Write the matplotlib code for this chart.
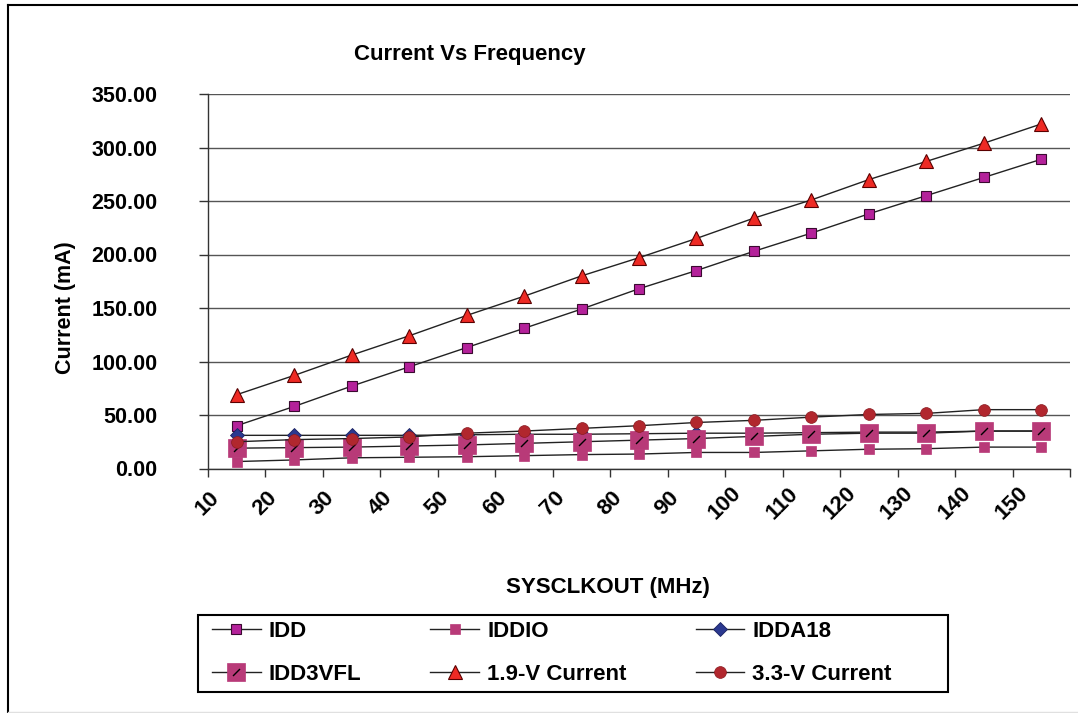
"""
Current vs frequency
"""

import numpy as np
import matplotlib.pyplot as plt
from matplotlib.lines import Line2D
from matplotlib.patches import Rectangle
from matplotlib.legend_handler import HandlerTuple
from matplotlib.transforms import ScaledTranslation

freq = [10, 20, 30, 40, 50, 60, 70, 80, 90, 100, 110, 120, 130, 140, 150]

idd     = [40, 58, 77, 95, 113, 131, 149, 168, 185, 203, 220, 238, 255, 272, 289]
iddio   = [6.5, 8, 10, 10.5, 11, 12, 13, 13.5, 15, 15, 16.5, 18, 18.5, 20, 20]
idda18  = [31, 31, 31, 31, 31.5, 32, 32, 32.5, 33, 33, 33.5, 34, 34, 35, 35]
idd3vfl = [19, 19.5, 20, 21, 22, 23.5, 25, 26.5, 28, 30, 32, 33, 33, 35, 35]
v19     = [69, 87, 106, 124, 143, 161, 180, 197, 215, 234, 251, 270, 287, 304, 322]
v33     = [25, 27, 28, 29.5, 33, 35, 37.5, 40, 43, 45, 48, 50.5, 51.5, 55, 55]

yticks = [0, 50, 100, 150, 200, 250, 300, 350]

plt.rcParams['font.family'] = ['Liberation Sans', 'DejaVu Sans']
plt.rcParams['font.weight'] = 'bold'

W, H = 1078, 713
fig = plt.figure(figsize=(W/100, H/100), dpi=100)
ax = fig.add_axes([208/W, 1 - 468.5/H, 862/W, 374.5/H])

x = np.arange(len(freq))
lc = '#222222'
lw = 1.0

#------------------------------------------------------------------------------
# series

h_idd, = ax.plot(x, idd, color=lc, lw=lw, marker='s', ms=7.2,
                 mfc='#B4219A', mec='#3a0a30', mew=0.8)
h_io, = ax.plot(x, iddio, color=lc, lw=lw, marker='s', ms=7.8,
                mfc='#B83A78', mec='#B83A78', mew=0.5)
h_a18, = ax.plot(x, idda18, color=lc, lw=lw, marker='D', ms=7.5,
                 mfc='#2B3990', mec='#1a2260', mew=0.6)
h_fl, = ax.plot(x, idd3vfl, color=lc, lw=lw, marker='s', ms=12.5,
                mfc='#B83A78', mec='#B83A78', mew=0.5)
slash = [(-0.5, -0.5), (0.5, 0.5)]
h_sl, = ax.plot(x, idd3vfl, ls='none', marker=slash, ms=5,
                mfc='none', mec='black', mew=1.0)
h_19, = ax.plot(x, v19, color=lc, lw=lw, marker='^', ms=9.5,
                mfc='#EE2A24', mec='#5a0000', mew=0.8)
h_33, = ax.plot(x, v33, color=lc, lw=lw, marker='o', ms=8.5,
                mfc='#B1272E', mec='#8a1a20', mew=0.5)

#------------------------------------------------------------------------------
# axes

ax.set_xlim(-0.5, len(freq) - 0.5)
ax.set_ylim(0, 350)
ax.set_yticks(yticks, [f'{v:.2f}' for v in yticks])
ax.set_xticks(x, [str(f) for f in freq])
ax.set_xticks(np.arange(len(freq) + 1) - 0.5, minor=True)

ax.grid(axis='y', color='#555555', lw=1)
ax.set_axisbelow(True)
for s in ['top', 'right']:
    ax.spines[s].set_visible(False)
for s in ['left', 'bottom']:
    ax.spines[s].set_color('#333333')
    ax.spines[s].set_linewidth(1)

ax.tick_params(axis='y', length=6.5, width=1, color='#333333', pad=30,
               labelsize=15.5)
ax.tick_params(axis='x', which='major', length=0, pad=25, labelsize=16)
ax.tick_params(axis='x', which='minor', length=6, width=1, color='#333333')

off = ScaledTranslation(-0.29, 0, fig.dpi_scale_trans)
for lab in ax.get_xticklabels():
    lab.set_rotation(45)
    lab.set_rotation_mode('anchor')
    lab.set_ha('center')
    lab.set_va('center')
    lab.set_transform(lab.get_transform() + off)

ax.set_xlabel('SYSCLKOUT (MHz)', fontsize=16, fontweight='bold')
ax.xaxis.set_label_coords((608 - 208)/862, (468.5 - 577)/374.5)
ax.set_ylabel('Current (mA)', fontsize=15.5, fontweight='bold')
ax.yaxis.set_label_coords((76 - 208)/862, (468.5 - 308)/374.5)
ax.set_title('Current Vs Frequency', fontsize=16, fontweight='bold',
             x=(470 - 208)/862, y=(468.5 - 60)/374.5, pad=0)

#------------------------------------------------------------------------------
# legend

handles = [h_idd, (h_fl, h_sl), h_io, h_19, h_a18, h_33]
labels = ['IDD', 'IDD3VFL', 'IDDIO', '1.9-V Current', 'IDDA18', '3.3-V Current']
fig.legend(handles, labels, ncol=3, frameon=False, loc='upper left',
           bbox_to_anchor=(212/W, 1 - 621/H), borderpad=0, borderaxespad=0,
           handlelength=2.2, handletextpad=0.36, columnspacing=3.1,
           labelspacing=1.0, prop={'size': 16, 'weight': 'bold'},
           handler_map={tuple: HandlerTuple(ndivide=1, pad=0)})
fig.add_artist(Rectangle((198/W, 1 - 692/H), 750/W, 77/H, transform=fig.transFigure,
                         fill=False, ec='black', lw=1.5))

# outer frame
fig.add_artist(Line2D([8/W, 1], [1 - 5/H, 1 - 5/H], color='black', lw=1.5))
fig.add_artist(Line2D([8/W, 8/W], [0, 1 - 5/H], color='black', lw=1.5))
fig.add_artist(Line2D([8/W, 1], [1 - 712/H, 1 - 712/H], color='#e0e0e0', lw=1))

fig.savefig('out.png', dpi=100)
